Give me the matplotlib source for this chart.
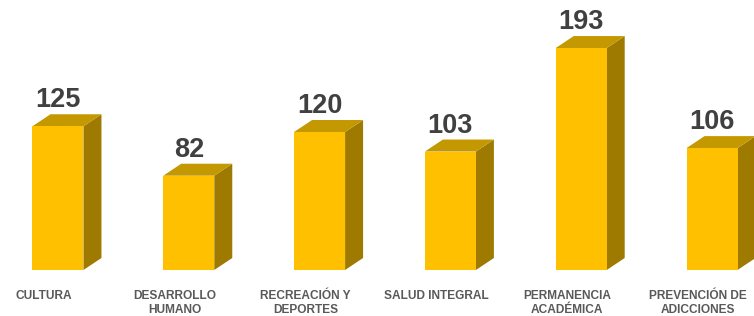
import matplotlib
matplotlib.use("Agg")
import matplotlib.pyplot as plt
from matplotlib.patches import Polygon

categories = ["CULTURA", "DESARROLLO\nHUMANO", "RECREACIÓN Y\nDEPORTES", "SALUD INTEGRAL",
              "PERMANENCIA\nACADÉMICA", "PREVENCIÓN DE\nADICCIONES"]
values = [125, 82, 120, 103, 193, 106]

W, H = 754, 316
fig = plt.figure(figsize=(W / 100, H / 100), dpi=100)
ax = fig.add_axes([0, 0, 1, 1])
ax.set_xlim(-0.443, 5.321)
ax.set_ylim(-40, 234.8)
ax.axis("off")

front = "#FFC000"
top_c = "#C49800"
side_c = "#9E7B00"
bw = 0.39
# depth offsets in pixels converted to data units
px_x = (5.321 + 0.443) / W
px_y = (234.8 + 40) / H
dx = 18 * px_x
dy = 12 * px_y

xs = list(range(len(values)))
for x, v in zip(xs, values):
    l, r = x - bw / 2, x + bw / 2
    ax.add_patch(Polygon([(r, 0), (r + dx, dy), (r + dx, v + dy), (r, v)],
                         closed=True, facecolor=side_c, edgecolor="none", zorder=2))
    ax.add_patch(Polygon([(l, v), (r, v), (r + dx, v + dy), (l + dx, v + dy)],
                         closed=True, facecolor=top_c, edgecolor="none", zorder=2))
ax.bar(xs, values, width=bw, color=front, edgecolor="none", zorder=3)

for x, v in zip(xs, values):
    ax.text(x, v + dy + 1 * px_y, str(v), ha="center", va="bottom",
            fontsize=19.5, fontweight="bold", color="#404040",
            family="Liberation Sans", zorder=4)

for x, c in zip(xs, categories):
    ax.text(x - 14 * px_x, -20 * px_y, c, ha="center", va="top",
            fontsize=8.6, fontweight="bold", color="#595959",
            family="Liberation Sans", linespacing=1.2, zorder=4)

fig.savefig("out.png", dpi=100)
